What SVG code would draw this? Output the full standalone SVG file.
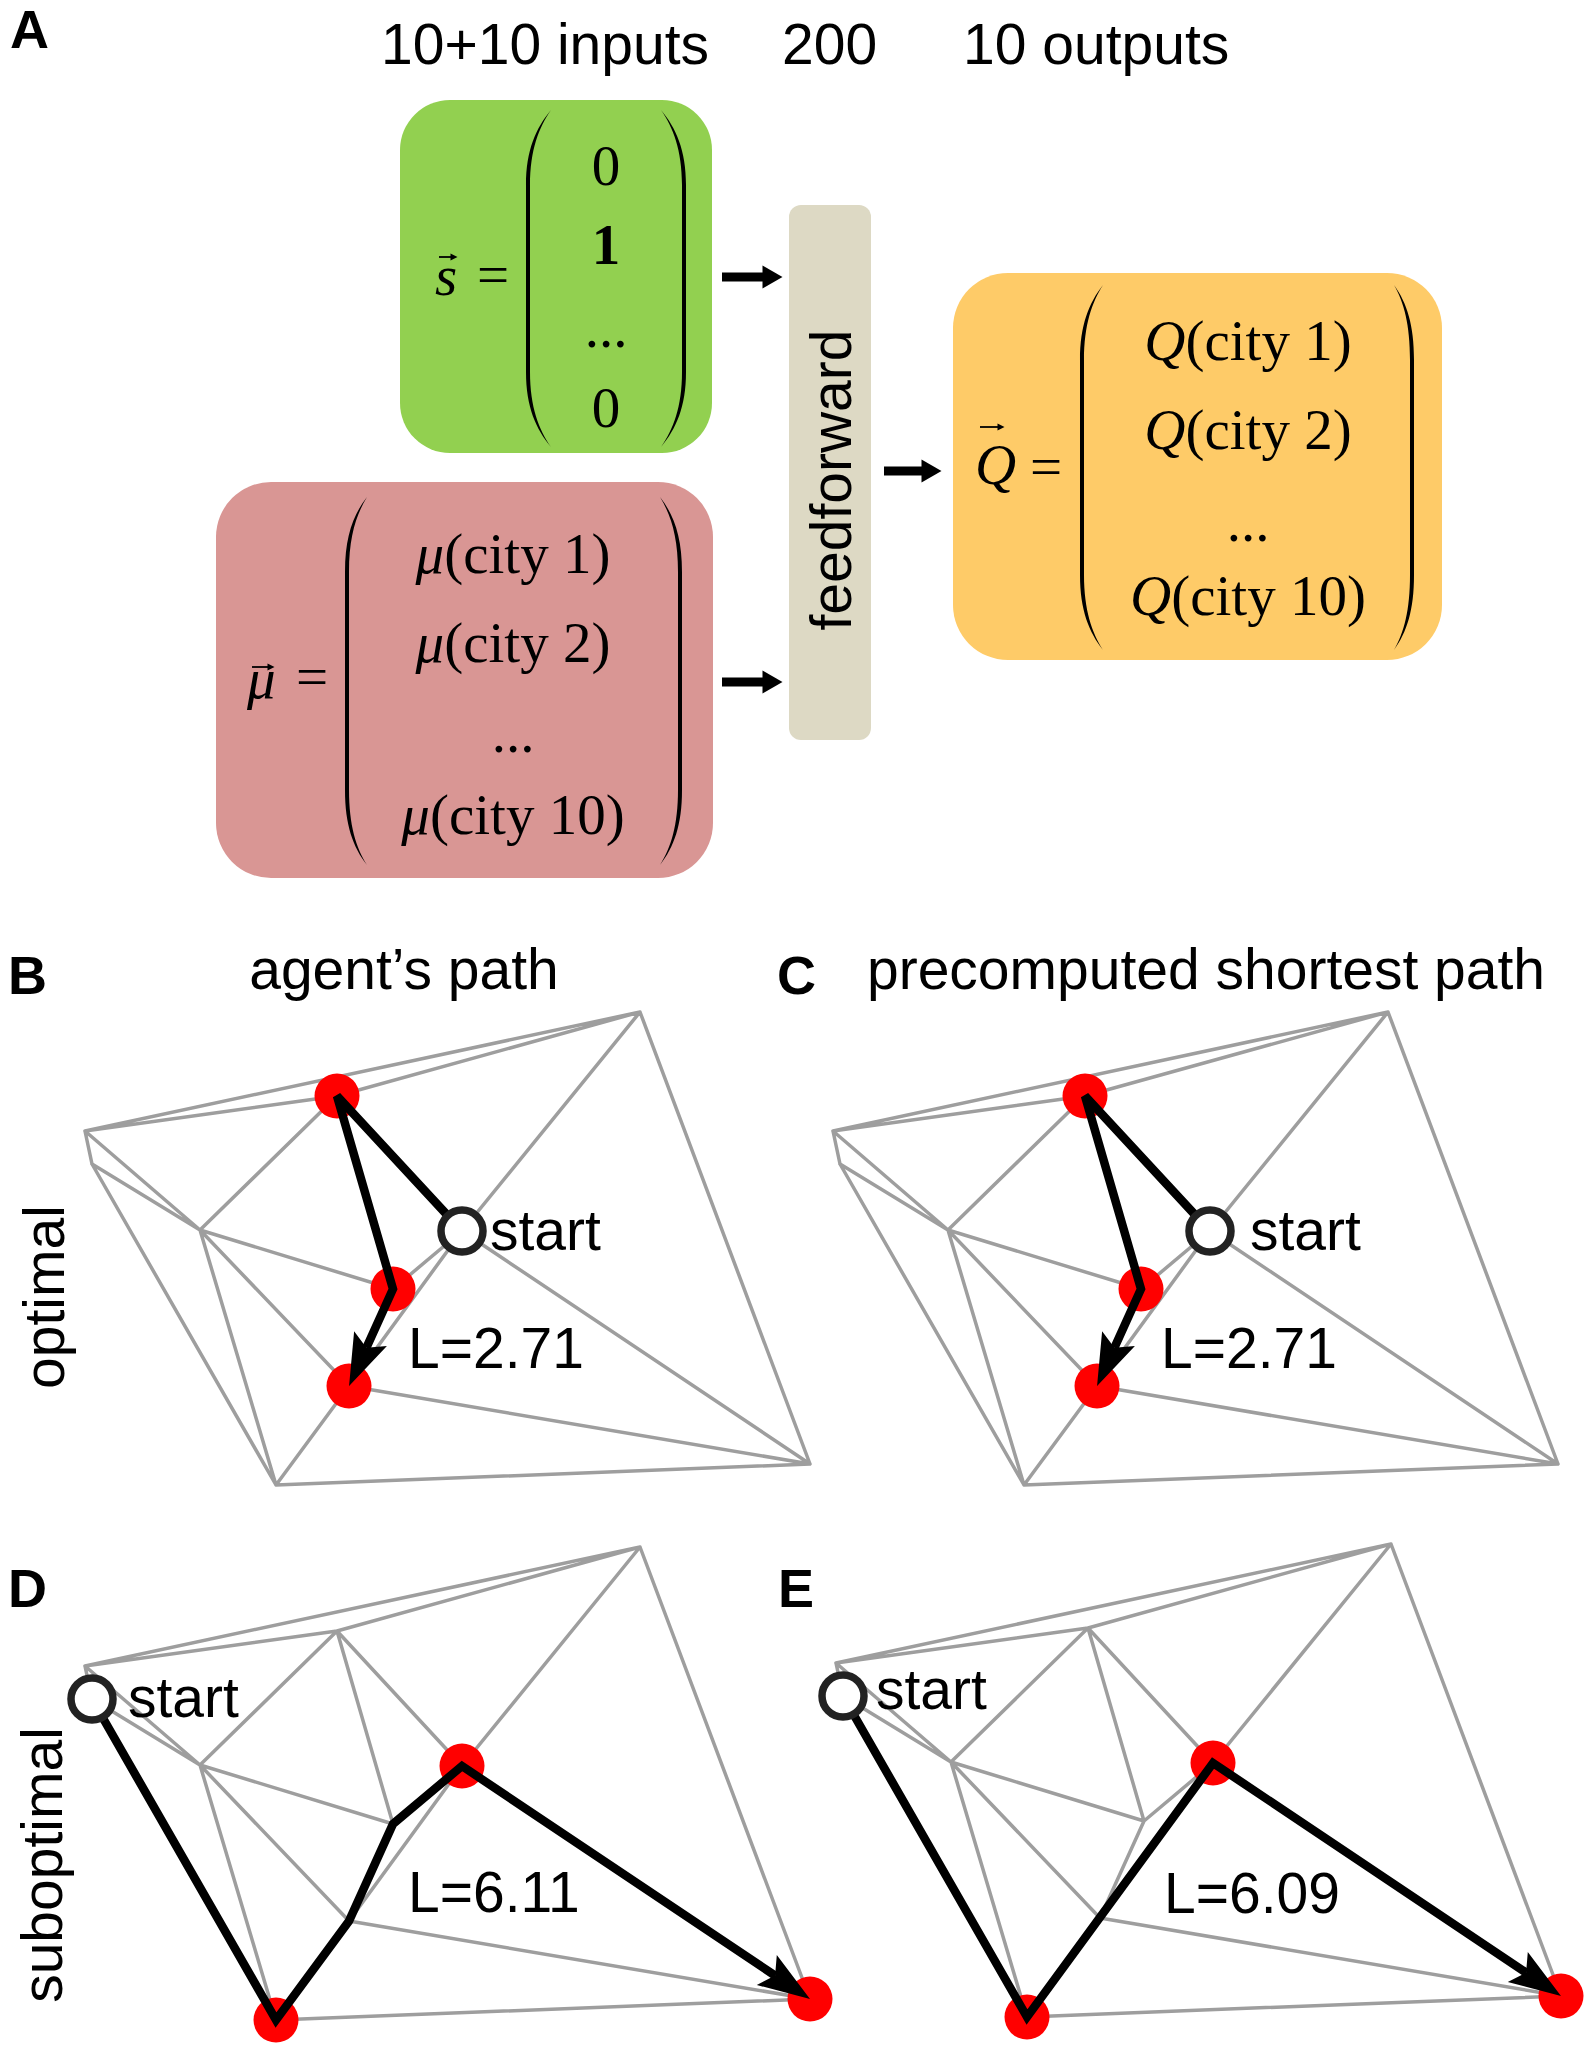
<svg xmlns="http://www.w3.org/2000/svg" width="1591" height="2054" viewBox="0 0 1591 2054">
<style>
.lbl{font-family:"Liberation Sans",Arial,sans-serif;font-weight:bold;font-size:54px;fill:#000}
.hdr{font-family:"Liberation Sans",Arial,sans-serif;font-size:57px;fill:#000}
.math{font-family:"Liberation Serif","Times New Roman",serif;font-size:57px;fill:#000}
.it{font-style:italic}
.edge{stroke:#9e9e9e;stroke-width:3.5;fill:none;stroke-linecap:round}
.route{stroke:#000;stroke-width:8.5;fill:none;stroke-linejoin:miter}
.city{fill:#ff0000}
.start{fill:#fff;stroke:#222;stroke-width:7.5}
.paren{fill:#000}
.flow{stroke:#000;stroke-width:9;fill:none}
.vec{stroke:#000;stroke-width:1.8;fill:none}
</style>
<defs>
<marker id="head" markerUnits="userSpaceOnUse" viewBox="-5 -20 60 40" markerWidth="60" markerHeight="40" refX="10" refY="0" orient="auto" overflow="visible"><path d="M52,0 L0,-18 L10,0 L0,18 Z" fill="#000"/></marker>
<marker id="fhead" markerUnits="userSpaceOnUse" viewBox="0 -12 22 24" markerWidth="22" markerHeight="24" refX="0.5" refY="0" orient="auto" overflow="visible"><path d="M0,-11.5 L20,0 L0,11.5 Z" fill="#000"/></marker>
<marker id="vhead" markerUnits="userSpaceOnUse" viewBox="0 -4 8 8" markerWidth="8" markerHeight="8" refX="0.5" refY="0" orient="auto" overflow="visible"><path d="M0,-3.5 L7,0 L0,3.5 Z" fill="#000"/></marker>
<g id="net">
<path class="edge" d="M85,1131L640,1012 M85,1131L337,1096 M337,1096L640,1012 M85,1131L92,1164 M85,1131L200,1230 M92,1164L200,1230 M92,1164L276,1485 M200,1230L337,1096 M200,1230L393,1289 M200,1230L349,1386 M200,1230L276,1485 M337,1096L393,1289 M337,1096L462,1231 M462,1231L640,1012 M462,1231L810,1464 M640,1012L810,1464 M393,1289L462,1231 M349,1386L462,1231 M349,1386L393,1289 M349,1386L810,1464 M349,1386L276,1485 M276,1485L810,1464"/>
</g>
</defs>
<rect width="1591" height="2054" fill="#fff"/>

<!-- Panel A -->
<g id="panelA">
<text class="lbl" x="10" y="48">A</text>
<g id="headers">
<text class="hdr" x="381" y="64">10+10 inputs</text>
<text class="hdr" x="782" y="64">200</text>
<text class="hdr" x="963" y="64">10 outputs</text>
</g>

<g id="node-s">
<rect x="400" y="100" width="312" height="353" rx="50" fill="#92d050"/>
<path class="paren" d="M551,110 C536,128 526,150 526,185 L526,372 C526,407 536,429 551,447 C539,430 530,407 530,372 L530,185 C530,150 539,127 551,110 Z"/>
<path class="paren" d="M661,110 C676,128 686,150 686,185 L686,372 C686,407 676,429 661,447 C673,430 682,407 682,372 L682,185 C682,150 673,127 661,110 Z"/>
<line class="vec" x1="439" y1="257" x2="451" y2="257" marker-end="url(#vhead)"/>
<text class="math it" x="435" y="295">s</text>
<text class="math" x="477" y="294">=</text>
<text class="math" x="606" y="185" text-anchor="middle">0</text>
<text class="math" x="606" y="264" text-anchor="middle" font-weight="bold">1</text>
<text class="math" x="606" y="347" text-anchor="middle">...</text>
<text class="math" x="606" y="427" text-anchor="middle">0</text>
</g>

<g id="node-mu">
<rect x="216" y="482" width="497" height="396" rx="55" fill="#d99694"/>
<path class="paren" d="M367,497 C353,515 345,537 345,572 L345,790 C345,825 353,847 367,865 C356,848 349,825 349,790 L349,572 C349,537 356,515 367,497 Z"/>
<path class="paren" d="M660,497 C674,515 682,537 682,572 L682,790 C682,825 674,847 660,865 C671,848 678,825 678,790 L678,572 C678,537 671,515 660,497 Z"/>
<line class="vec" x1="252" y1="667" x2="268" y2="667" marker-end="url(#vhead)"/>
<text class="math it" x="247" y="698">μ</text>
<text class="math" x="296" y="696">=</text>
<text class="math" x="513" y="573" text-anchor="middle"><tspan class="it">μ</tspan>(city 1)</text>
<text class="math" x="513" y="662" text-anchor="middle"><tspan class="it">μ</tspan>(city 2)</text>
<text class="math" x="513" y="752" text-anchor="middle">...</text>
<text class="math" x="513" y="834" text-anchor="middle"><tspan class="it">μ</tspan>(city 10)</text>
</g>

<g id="node-ff">
<rect x="789" y="205" width="82" height="535" rx="12" fill="#ddd9c4"/>
<text class="hdr" transform="translate(851,480) rotate(-90)" text-anchor="middle">feedforward</text>
</g>

<g id="node-Q">
<rect x="953" y="273" width="489" height="387" rx="55" fill="#fecb68"/>
<path class="paren" d="M1103,285 C1089,303 1080,325 1080,360 L1080,575 C1080,610 1089,632 1103,650 C1092,633 1084,610 1084,575 L1084,360 C1084,325 1092,302 1103,285 Z"/>
<path class="paren" d="M1394,285 C1407,303 1414,325 1414,360 L1414,575 C1414,610 1407,632 1394,650 C1404,633 1410,610 1410,575 L1410,360 C1410,325 1404,302 1394,285 Z"/>
<line class="vec" x1="980" y1="427" x2="998" y2="427" marker-end="url(#vhead)"/>
<text class="math it" x="975" y="484">Q</text>
<text class="math" x="1030" y="486">=</text>
<text class="math" x="1248" y="360" text-anchor="middle"><tspan class="it">Q</tspan>(city 1)</text>
<text class="math" x="1248" y="449" text-anchor="middle"><tspan class="it">Q</tspan>(city 2)</text>
<text class="math" x="1248" y="541" text-anchor="middle">...</text>
<text class="math" x="1248" y="615" text-anchor="middle"><tspan class="it">Q</tspan>(city 10)</text>
</g>

<g id="connectors-A">
<line class="flow" x1="722" y1="277" x2="763" y2="277" marker-end="url(#fhead)"/>
<line class="flow" x1="722" y1="682" x2="763" y2="682" marker-end="url(#fhead)"/>
<line class="flow" x1="884" y1="471" x2="922" y2="471" marker-end="url(#fhead)"/>
</g>
</g>

<!-- Titles -->
<g id="titles">
<text class="lbl" x="8" y="994">B</text>
<text class="hdr" x="404" y="989" text-anchor="middle">agent’s path</text>
<text class="lbl" x="777" y="994">C</text>
<text class="hdr" x="1206" y="989" text-anchor="middle">precomputed shortest path</text>
<text class="lbl" x="8" y="1607">D</text>
<text class="lbl" x="778" y="1607">E</text>
<text class="hdr" transform="translate(64,1297) rotate(-90)" text-anchor="middle">optimal</text>
<text class="hdr" transform="translate(62,1865) rotate(-90)" text-anchor="middle">suboptimal</text>
</g>

<!-- Panel B -->
<g id="panelB">
<use href="#net"/>
<g id="B-cities"><circle class="city" cx="337" cy="1096" r="22.5"/><circle class="city" cx="393" cy="1289" r="22.5"/><circle class="city" cx="349" cy="1386" r="22.5"/></g>
<polyline class="route" points="462,1231 337,1096 393,1289 366.4,1347.7" marker-end="url(#head)"/>
<g id="B-start"><circle class="start" cx="462" cy="1231" r="21"/><text class="hdr" x="490" y="1250">start</text></g>
<text class="hdr" x="408" y="1368">L=2.71</text>
</g>

<!-- Panel C -->
<g id="panelC" transform="translate(748,0)">
<use href="#net"/>
<g id="C-cities"><circle class="city" cx="337" cy="1096" r="22.5"/><circle class="city" cx="393" cy="1289" r="22.5"/><circle class="city" cx="349" cy="1386" r="22.5"/></g>
<polyline class="route" points="462,1231 337,1096 393,1289 366.4,1347.7" marker-end="url(#head)"/>
<g id="C-start"><circle class="start" cx="462" cy="1231" r="21"/><text class="hdr" x="502" y="1250">start</text></g>
<text class="hdr" x="413" y="1368">L=2.71</text>
</g>

<!-- Panel D -->
<g id="panelD" transform="translate(0,535)">
<use href="#net"/>
<g id="D-cities"><circle class="city" cx="462" cy="1231" r="22.5"/><circle class="city" cx="276" cy="1485" r="22.5"/><circle class="city" cx="810" cy="1464" r="22.5"/></g>
<polyline class="route" points="92,1164 276,1485 349,1386 393,1289 462,1231 775.1,1440.6" marker-end="url(#head)"/>
<g id="D-start"><circle class="start" cx="92" cy="1164" r="21"/><text class="hdr" x="128" y="1182">start</text></g>
<text class="hdr" x="408" y="1377">L=6.11</text>
</g>

<!-- Panel E -->
<g id="panelE" transform="translate(751,532)">
<use href="#net"/>
<g id="E-cities"><circle class="city" cx="462" cy="1231" r="22.5"/><circle class="city" cx="276" cy="1485" r="22.5"/><circle class="city" cx="810" cy="1464" r="22.5"/></g>
<polyline class="route" points="92,1164 276,1485 462,1231 775.1,1440.6" marker-end="url(#head)"/>
<g id="E-start"><circle class="start" cx="92" cy="1164" r="21"/><text class="hdr" x="125" y="1177">start</text></g>
<text class="hdr" x="413" y="1381">L=6.09</text>
</g>
</svg>
